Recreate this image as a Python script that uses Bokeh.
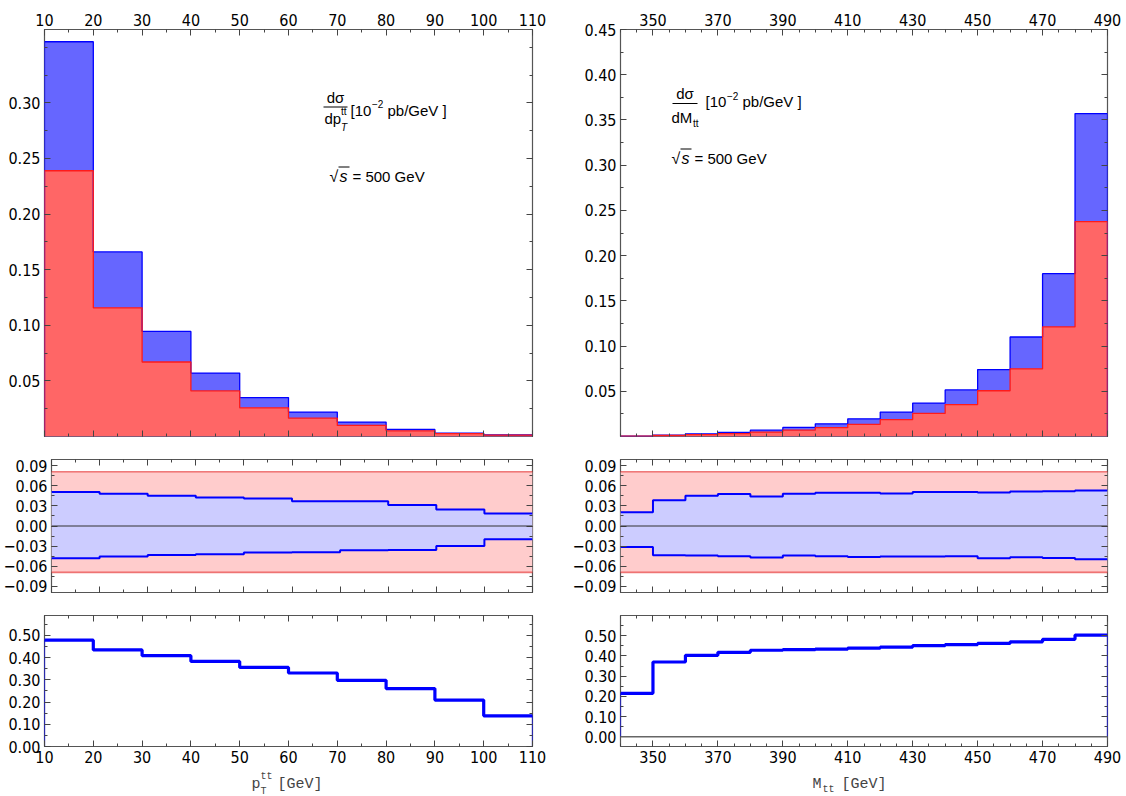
import numpy as np
from bokeh.plotting import figure
from bokeh.layouts import column, row
from bokeh.models import (FixedTicker, CustomJSTickFormatter, LinearAxis, Range1d,
                          Label, Arrow, Span)
from bokeh.embed import file_html
from bokeh.resources import INLINE

# ---------------- data ----------------
pt_edges = [10, 20, 30, 40, 50, 60, 70, 80, 90, 100, 110]
pt_total = [0.355, 0.166, 0.0945, 0.057, 0.035, 0.022, 0.013, 0.0064, 0.003, 0.0015]
pt_part = [0.239, 0.1157, 0.067, 0.041, 0.0258, 0.0165, 0.010, 0.0051, 0.0025, 0.0013]
pt_unc_up = [0.0507, 0.0482, 0.0453, 0.0428, 0.0413, 0.0369, 0.0369, 0.0315, 0.0246, 0.0187]
pt_unc_lo = [-0.0482, -0.0457, -0.0433, -0.0423, -0.0398, -0.0394, -0.0364, -0.0359, -0.0300, -0.0197]
pt_ratio = [0.479, 0.435, 0.409, 0.383, 0.356, 0.331, 0.298, 0.261, 0.209, 0.138]

m_edges = [340, 350, 360, 370, 380, 390, 400, 410, 420, 430, 440, 450, 460, 470, 480, 490]
m_total = [0.0005, 0.0015, 0.0030, 0.0044, 0.0070, 0.0100, 0.0140, 0.0195, 0.0270,
           0.0370, 0.0515, 0.0740, 0.1100, 0.1800, 0.3570]
m_part = [0.0004, 0.0011, 0.0021, 0.0031, 0.0049, 0.0070, 0.0098, 0.0135, 0.0187,
          0.0255, 0.0353, 0.0506, 0.0748, 0.1212, 0.2375]
m_unc_up = [0.0207, 0.0384, 0.0453, 0.0477, 0.0443, 0.0482, 0.0497, 0.0497, 0.0487,
            0.0507, 0.0507, 0.0502, 0.0516, 0.0521, 0.0531]
m_unc_lo = [-0.0315, -0.0438, -0.0443, -0.0453, -0.0472, -0.0443, -0.0453, -0.0462, -0.0457,
            -0.0457, -0.0453, -0.0482, -0.0467, -0.0477, -0.0497]
m_ratio = [0.215, 0.370, 0.403, 0.418, 0.428, 0.431, 0.434, 0.439, 0.444, 0.451, 0.456,
           0.462, 0.470, 0.482, 0.503]

scale_band_hi = 0.0812
scale_band_lo = -0.0694

pt_xticks = [10, 20, 30, 40, 50, 60, 70, 80, 90, 100, 110]
m_xticks = [350, 370, 390, 410, 430, 450, 470, 490]
top_left_yticks = [0.05, 0.10, 0.15, 0.20, 0.25, 0.30]
top_right_yticks = [0.05, 0.10, 0.15, 0.20, 0.25, 0.30, 0.35, 0.40, 0.45]
mid_yticks = [-0.09, -0.06, -0.03, 0.0, 0.03, 0.06, 0.09]
bot_yticks = [0.0, 0.1, 0.2, 0.3, 0.4, 0.5]

# ---------------- style ----------------
TICK_FONT = "Liberation Sans Narrow, DejaVu Sans Condensed, Liberation Sans"
ANN_FONT = "Liberation Sans"
MONO_FONT = "Liberation Mono"
BLUE_FILL = "#6666ff"
RED_FILL = "#ff6666"
BLUE_LINE = "#0000ff"
RED_LINE = "#ff1a1a"
FRAME = "#555555"

fmt2 = CustomJSTickFormatter(code="""
const s = Math.abs(tick).toFixed(2);
return (tick < -1e-9 ? '\u2212' : '') + s;
""")
fmt0 = CustomJSTickFormatter(code="return tick.toFixed(0);")
fmt_none = CustomJSTickFormatter(code="return '';")


def minor_range(a, b, step):
    n = int(round((b - a) / step))
    return [round(a + i * step, 6) for i in range(n + 1)]


def make_fig(xr, yr, w, h, borders):
    p = figure(width=w, height=h, x_range=Range1d(*xr), y_range=Range1d(*yr),
               output_backend="svg", toolbar_location=None,
               x_axis_location=None, y_axis_location=None,
               min_border_left=borders[0], min_border_right=borders[1],
               min_border_top=borders[2], min_border_bottom=borders[3])
    p.grid.visible = False
    p.outline_line_color = FRAME
    p.outline_line_width = 1.2
    p.background_fill_color = "white"
    p.border_fill_color = "white"
    return p


def add_axis(p, side, ticks, minor, fmt, show):
    ax = LinearAxis(ticker=FixedTicker(ticks=ticks, minor_ticks=minor),
                    formatter=fmt if show else fmt_none,
                    major_tick_in=6, major_tick_out=0, minor_tick_in=3, minor_tick_out=0,
                    axis_line_color=None,
                    major_tick_line_color="#444444", minor_tick_line_color="#444444",
                    major_tick_line_width=1, minor_tick_line_width=1,
                    major_label_text_font=TICK_FONT,
                    major_label_text_font_size="16px",
                    major_label_text_color="black",
                    major_label_standoff=4 if show else 0)
    p.add_layout(ax, side)


def to_data(box, xr, yr, X, Y):
    x = xr[0] + (X - box[0]) / (box[1] - box[0]) * (xr[1] - xr[0])
    y = yr[1] - (Y - box[2]) / (box[3] - box[2]) * (yr[1] - yr[0])
    return x, y


def lab(p, box, xr, yr, X, Y, text, size, font=ANN_FONT, align="left",
        style="normal", color="black"):
    x, y = to_data(box, xr, yr, X, Y)
    p.add_layout(Label(x=x, y=y, text=text, text_font=font, text_font_size=f"{size}px",
                       text_align=align, text_baseline="middle", text_font_style=style,
                       text_color=color))


def hline(p, box, xr, yr, X0, X1, Y, width=1.1, color="black"):
    x0, y0 = to_data(box, xr, yr, X0, Y)
    x1, y1 = to_data(box, xr, yr, X1, Y)
    p.add_layout(Arrow(end=None, x_start=x0, y_start=y0, x_end=x1, y_end=y1,
                       line_color=color, line_width=width))


def outline_xy(edges, vals):
    xs = np.repeat(np.asarray(edges, dtype=float), 2)
    ys = np.concatenate([[0.0], np.repeat(np.asarray(vals, dtype=float), 2), [0.0]])
    return xs, ys


def ext(vals):
    return list(vals) + [vals[-1]]


# ---------------- geometry ----------------
LW, RW = 552, 574
LB = (44, 20)
RB = (68, 19)
TOP_H, MID_H, BOT_H, TITLE_H = 448, 155, 168, 25
TOP_B = (29, 12)
MID_B = (11, 11)
BOT_B = (12, 25)

pt_xr = (10, 110)
m_xr = (340, 490)
tl_yr = (0, 0.366)
tr_yr = (0, 0.45)
mid_yr = (-0.0995, 0.0995)
bl_yr = (0, 0.59)
br_yr = (-0.048, 0.60)

pt_minor = minor_range(10, 110, 5)
m_minor = minor_range(340, 490, 5)


def top_panel(xr, yr, w, lb, edges, total, part, xticks, xminor, yticks):
    p = make_fig(xr, yr, w, TOP_H, (lb[0], lb[1], TOP_B[0], TOP_B[1]))
    ymin = minor_range(0.025, 0.45, 0.025)
    add_axis(p, "left", yticks, ymin, fmt2, True)
    add_axis(p, "right", yticks, ymin, fmt2, False)
    add_axis(p, "above", xticks, xminor, fmt0, True)
    add_axis(p, "below", xticks, xminor, fmt0, False)
    zeros = [0.0] * len(edges)
    p.varea_step(x=edges, y1=zeros, y2=ext(total), step_mode="after", fill_color=BLUE_FILL)
    p.varea_step(x=edges, y1=zeros, y2=ext(part), step_mode="after", fill_color=RED_FILL)
    xs, ys = outline_xy(edges, total)
    p.line(xs, ys, line_color=BLUE_LINE, line_width=1.3)
    xs, ys = outline_xy(edges, part)
    p.line(xs, ys, line_color=RED_LINE, line_width=1.3)
    return p


def mid_panel(xr, w, lb, edges, up, lo, xticks, xminor):
    p = make_fig(xr, mid_yr, w, MID_H, (lb[0], lb[1], MID_B[0], MID_B[1]))
    ymin = minor_range(-0.09, 0.09, 0.015)
    add_axis(p, "left", mid_yticks, ymin, fmt2, True)
    add_axis(p, "right", mid_yticks, ymin, fmt2, False)
    add_axis(p, "above", xticks, xminor, fmt0, False)
    add_axis(p, "below", xticks, xminor, fmt0, False)
    p.quad(left=[edges[0]], right=[edges[-1]], bottom=[scale_band_lo], top=[scale_band_hi],
           fill_color="#ffcccc", line_color=None)
    p.varea_step(x=edges, y1=ext(lo), y2=ext(up), step_mode="after", fill_color="#ccccff")
    p.add_layout(Span(location=0, dimension="width", line_color="#333333", line_width=1))
    p.step(edges, ext(up), mode="after", line_color=BLUE_LINE, line_width=2)
    p.step(edges, ext(lo), mode="after", line_color=BLUE_LINE, line_width=2)
    for v in (scale_band_hi, scale_band_lo):
        p.line([edges[0], edges[-1]], [v, v], line_color="#dd0000", line_width=1.6,
               line_dash="1 1")
    return p


def bot_panel(xr, yr, w, lb, edges, ratio, xticks, xminor, zero_line):
    p = make_fig(xr, yr, w, BOT_H, (lb[0], lb[1], BOT_B[0], BOT_B[1]))
    ymin = minor_range(0.05, 0.55, 0.05)
    add_axis(p, "left", bot_yticks, ymin, fmt2, True)
    add_axis(p, "right", bot_yticks, ymin, fmt2, False)
    add_axis(p, "above", xticks, xminor, fmt0, False)
    add_axis(p, "below", xticks, xminor, fmt0, True)
    if zero_line:
        p.add_layout(Span(location=0, dimension="width", line_color="#666666", line_width=1.5))
    xs, ys = outline_xy(edges, ratio)
    p.line(xs, ys, line_color=BLUE_LINE, line_width=1.2)
    p.step(edges, ext(ratio), mode="after", line_color=BLUE_LINE, line_width=3.2)
    return p


tl = top_panel(pt_xr, tl_yr, LW, LB, pt_edges, pt_total, pt_part, pt_xticks, pt_minor,
               top_left_yticks)
tr = top_panel(m_xr, tr_yr, RW, RB, m_edges, m_total, m_part, m_xticks, m_minor,
               top_right_yticks)
ml = mid_panel(pt_xr, LW, LB, pt_edges, pt_unc_up, pt_unc_lo, pt_xticks, pt_minor)
mr = mid_panel(m_xr, RW, RB, m_edges, m_unc_up, m_unc_lo, m_xticks, m_minor)
bl = bot_panel(pt_xr, bl_yr, LW, LB, pt_edges, pt_ratio, pt_xticks, pt_minor, False)
br = bot_panel(m_xr, br_yr, RW, RB, m_edges, m_ratio, m_xticks, m_minor, True)

# title strip: pixel coordinates map 1:1 (y grows downward from y=771 of the page)
title = figure(width=1126, height=TITLE_H, x_range=Range1d(0, 1126),
               y_range=Range1d(TITLE_H, 0), output_backend="svg", toolbar_location=None,
               x_axis_location=None, y_axis_location=None,
               min_border_left=0, min_border_right=0, min_border_top=0, min_border_bottom=0)
title.grid.visible = False
title.outline_line_color = None

# ---------------- annotations ----------------
TLB = (44, 532, 29, 436)
TRB = (620, 1107, 29, 436)

# left top
lab(tl, TLB, pt_xr, tl_yr, 335, 97, "d\u03c3", 15, align="center")
hline(tl, TLB, pt_xr, tl_yr, 323, 347, 106.5)
lab(tl, TLB, pt_xr, tl_yr, 324, 118, "dp", 15)
lab(tl, TLB, pt_xr, tl_yr, 340.5, 111, "tt", 10)
lab(tl, TLB, pt_xr, tl_yr, 340.5, 127, "T", 10, style="italic")
lab(tl, TLB, pt_xr, tl_yr, 350, 110, "[10", 15)
lab(tl, TLB, pt_xr, tl_yr, 371.5, 103, "\u22122", 10)
lab(tl, TLB, pt_xr, tl_yr, 387, 110, "pb/GeV ]", 15)
lab(tl, TLB, pt_xr, tl_yr, 329, 176, "\u221a", 16)
lab(tl, TLB, pt_xr, tl_yr, 339, 176, "s", 16, style="italic")
hline(tl, TLB, pt_xr, tl_yr, 338, 349, 166.5, width=1)
lab(tl, TLB, pt_xr, tl_yr, 352, 176, "= 500 GeV", 15)

# right top
lab(tr, TRB, m_xr, tr_yr, 684.5, 93, "d\u03c3", 15, align="center")
hline(tr, TRB, m_xr, tr_yr, 672, 697, 103)
lab(tr, TRB, m_xr, tr_yr, 671, 117, "dM", 15)
lab(tr, TRB, m_xr, tr_yr, 692.5, 123, "tt", 10)
lab(tr, TRB, m_xr, tr_yr, 705, 101, "[10", 15)
lab(tr, TRB, m_xr, tr_yr, 726.5, 95, "\u22122", 10)
lab(tr, TRB, m_xr, tr_yr, 742, 101, "pb/GeV ]", 15)
lab(tr, TRB, m_xr, tr_yr, 671, 158, "\u221a", 16)
lab(tr, TRB, m_xr, tr_yr, 681, 158, "s", 16, style="italic")
hline(tr, TRB, m_xr, tr_yr, 680, 691, 148.5, width=1)
lab(tr, TRB, m_xr, tr_yr, 694, 158, "= 500 GeV", 15)


# axis titles (in the title strip, y measured downward from its top)
def tlab(X, Y, text, size):
    title.add_layout(Label(x=X, y=Y - 771, text=text, text_font=MONO_FONT,
                           text_font_size=f"{size}px", text_align="left",
                           text_baseline="middle", text_color="#444444"))


tlab(251, 784, "p", 15)
tlab(260, 776, "tt", 10)
tlab(260, 791, "T", 10)
tlab(277, 784, "[GeV]", 15)
tlab(812, 784, "M", 15)
tlab(822, 789, "tt", 10)
tlab(841, 784, "[GeV]", 15)

layout = column(row(tl, tr), row(ml, mr), row(bl, br), title)

with open("out.html", "w", encoding="utf-8") as f:
    f.write(file_html(layout, INLINE))
